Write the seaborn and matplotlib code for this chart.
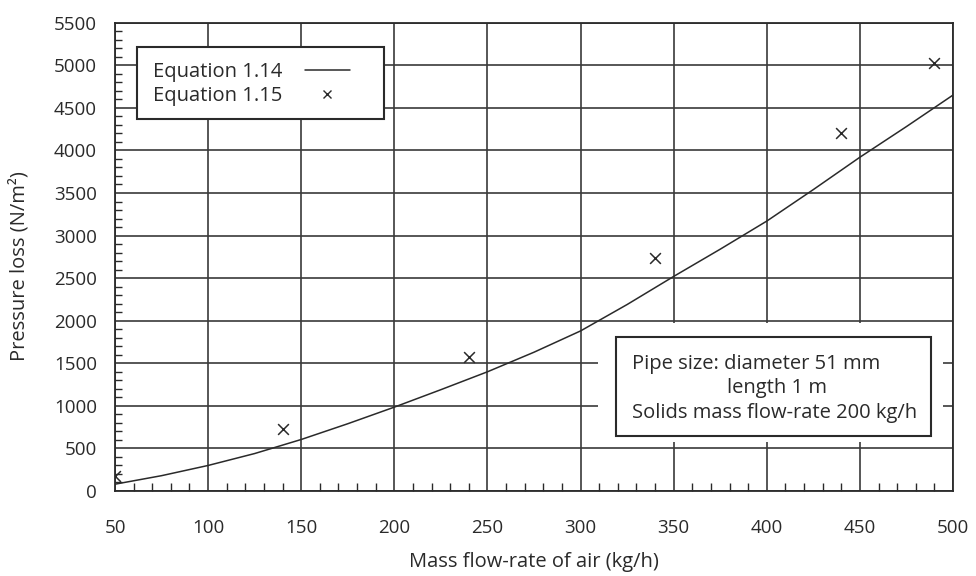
import matplotlib
matplotlib.use("Agg")
import matplotlib.pyplot as plt
from matplotlib.lines import Line2D
from matplotlib.patches import Rectangle
from matplotlib.ticker import MultipleLocator
import seaborn as sns
import pandas as pd

# Equation 1.14 (curve)
eq14_flow = [50, 75, 100, 125, 150, 175, 200, 225, 250, 275, 300, 325, 350, 375, 400, 425, 450, 475, 500]
eq14_loss = [80, 180, 300, 440, 605, 790, 985, 1190, 1400, 1630, 1880, 2190, 2520, 2840, 3170, 3540, 3920, 4280, 4650]

# Equation 1.15 (points)
eq15_flow = [50, 140, 240, 340, 440, 490]
eq15_loss = [180, 730, 1575, 2735, 4200, 5025]

x_ticks = [50, 100, 150, 200, 250, 300, 350, 400, 450, 500]
y_ticks = list(range(0, 5501, 500))

sns.set_theme(style="white")
plt.rcParams["font.family"] = ["Open Sans", "DejaVu Sans"]

ink = "#2a2a2a"
fig = plt.figure(figsize=(9.76, 5.76), dpi=100)
ax = fig.add_axes([115/976, 1-491/576, 838/976, 468.3/576])

df14 = pd.DataFrame({"flow": eq14_flow, "loss": eq14_loss})
df15 = pd.DataFrame({"flow": eq15_flow, "loss": eq15_loss})
sns.lineplot(data=df14, x="flow", y="loss", ax=ax, color=ink, linewidth=1.1, zorder=3)
sns.scatterplot(data=df15, x="flow", y="loss", ax=ax, marker="x", color=ink, s=60,
                linewidth=1.1, zorder=3)

ax.set_xlim(50, 500)
ax.set_ylim(0, 5500)
ax.set_xticks(x_ticks)
ax.set_yticks(y_ticks)
ax.xaxis.set_minor_locator(MultipleLocator(10))
ax.yaxis.set_minor_locator(MultipleLocator(100))
ax.grid(True, which="major", color="#3a3a3a", linewidth=1.2, zorder=1)
ax.set_axisbelow(True)

ax.tick_params(axis="x", which="major", length=0, pad=20, labelsize=13.5, labelcolor=ink)
ax.tick_params(axis="y", which="major", length=0, pad=13, labelsize=13.5, labelcolor=ink)
ax.tick_params(axis="x", which="minor", direction="in", length=6, width=1.0, color=ink, bottom=True)
ax.tick_params(axis="y", which="minor", direction="in", length=5, width=1.0, color=ink, left=True)

for s in ax.spines.values():
    s.set_visible(True)
    s.set_color(ink)
    s.set_linewidth(1.3)

ax.set_xlabel("Mass flow-rate of air (kg/h)", fontsize=14.5, color=ink)
ax.set_ylabel("Pressure loss (N/m²)", fontsize=14.5, color=ink)
ax.xaxis.set_label_coords(0.5, -0.13)
ax.yaxis.set_label_coords(-0.102, 0.48)

def ax_x(px):
    return (px - 115) / 838
def ax_y(py):
    return (491 - py) / 468.3

# Legend (frame drawn as a rectangle)
ax.add_patch(Rectangle((ax_x(137.3), ax_y(119)), ax_x(384.3) - ax_x(137.3), ax_y(46.7) - ax_y(119),
                       transform=ax.transAxes, facecolor="white", edgecolor=ink, linewidth=1.5, zorder=4))
handles = [Line2D([], [], color=ink, linewidth=1.1),
           Line2D([], [], color=ink, linestyle="none", marker="x", markersize=6, markeredgewidth=1.0)]
leg = ax.legend(handles, ["Equation 1.14", "Equation 1.15"], loc="upper left",
                bbox_to_anchor=(ax_x(153), ax_y(62)), borderaxespad=0, borderpad=0,
                markerfirst=False, frameon=False, fontsize=14.5, handlelength=2.25,
                handletextpad=1.1, labelspacing=0.2)
for t in leg.get_texts():
    t.set_color(ink)
leg.set_zorder(5)

# Annotation box
ax.add_patch(Rectangle((ax_x(598), ax_y(442)), ax_x(943) - ax_x(598), ax_y(323) - ax_y(442),
                       transform=ax.transAxes, facecolor="white", edgecolor="none", zorder=2))
ax.add_patch(Rectangle((ax_x(616), ax_y(436)), ax_x(930.7) - ax_x(616), ax_y(337.3) - ax_y(436),
                       transform=ax.transAxes, facecolor="white", edgecolor=ink, linewidth=1.5, zorder=4))
ax.text(ax_x(631.7), ax_y(363.5), "Pipe size: diameter 51 mm", transform=ax.transAxes,
        ha="left", va="center", fontsize=14.5, color=ink, zorder=5)
ax.text(ax_x(776.7), ax_y(388), "length 1 m", transform=ax.transAxes,
        ha="center", va="center", fontsize=14.5, color=ink, zorder=5)
ax.text(ax_x(631.7), ax_y(413), "Solids mass flow-rate 200 kg/h", transform=ax.transAxes,
        ha="left", va="center", fontsize=14.5, color=ink, zorder=5)

fig.savefig("out.png", dpi=100, facecolor="white")
